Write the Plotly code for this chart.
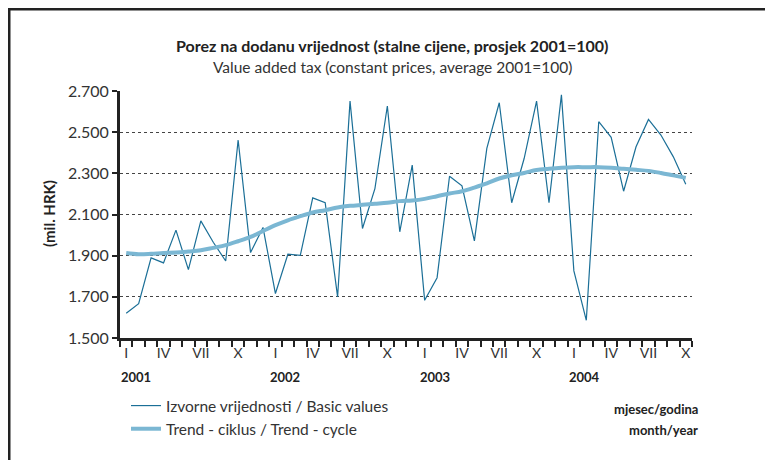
import plotly.graph_objects as go

# monthly data, I 2001 - X 2004
years = [2001, 2002, 2003, 2004]
roman = ["I", "II", "III", "IV", "V", "VI", "VII", "VIII", "IX", "X", "XI", "XII"]
months = [f"{y}-{m:02d}" for y in years for m in range(1, 13)][:46]

basic_values = [
    1620, 1667, 1889, 1865, 2024, 1832, 2069, 1965, 1874, 2462, 1915, 2037,
    1716, 1907, 1902, 2181, 2157, 1700, 2651, 2032, 2226, 2627, 2016, 2340,
    1683, 1793, 2286, 2239, 1972, 2421, 2643, 2157, 2372, 2651, 2157, 2681,
    1826, 1586, 2551, 2475, 2213, 2429, 2562, 2486, 2380, 2247,
]
trend_cycle = [
    1913, 1907, 1909, 1913, 1915, 1920, 1926, 1938, 1951, 1970, 1991, 2020,
    2048, 2072, 2092, 2110, 2121, 2134, 2142, 2147, 2152, 2157, 2165, 2168,
    2176, 2189, 2202, 2213, 2231, 2251, 2275, 2291, 2302, 2316, 2322, 2327,
    2330, 2330, 2330, 2327, 2322, 2317, 2312, 2302, 2290, 2278,
]
y_ticks = [1500, 1700, 1900, 2100, 2300, 2500, 2700]

month_labels = [roman[int(m[5:]) - 1] if int(m[5:]) in (1, 4, 7, 10) else "" for m in months]

FONT = "Lato"
OFF = 8  # page body margin
W, H = 773 - OFF, 460 - OFF
L, R, T, B = 120, 692, 91, 338  # plot area in page pixels


def px(x):
    return (x - L) / (R - L)


def py(y):
    return (B - y) / (B - T)


fig = go.Figure()
fig.add_trace(go.Scatter(
    x=months, y=basic_values, mode="lines",
    name="Izvorne vrijednosti / Basic values",
    line=dict(color="#1b6f97", width=1.2),
))
fig.add_trace(go.Scatter(
    x=months, y=trend_cycle, mode="lines",
    name="Trend - ciklus / Trend - cycle",
    line=dict(color="#7bb7d3", width=4, shape="spline"),
))


def note(text, x, y, size, color="#222", xanchor="center", **kw):
    return dict(text=text, x=px(x), y=py(y), xref="paper", yref="paper",
                xanchor=xanchor, yanchor="middle", showarrow=False,
                font=dict(size=size, color=color), **kw)


annotations = [
    note("<b>Porez na dodanu vrijednost (stalne cijene, prosjek 2001=100)</b>", 392, 45, 16),
    note("Value added tax (constant prices, average 2001=100)", 392, 67, 15.5, "#333"),
    note("<b>(mil. HRK)</b>", 49, 214, 15, textangle=-90),
    note("<b>mjesec/godina</b>", 700, 409, 13, xanchor="right"),
    note("<b>month/year</b>", 700, 430, 13, xanchor="right"),
]
for y in years:
    annotations.append(dict(
        text=f"<b>{y}</b>", x=f"{y}-01", y=py(377), xref="x", yref="paper",
        xanchor="left", yanchor="middle", xshift=-7, showarrow=False,
        font=dict(size=13, color="#222"),
    ))

shapes = [
    dict(type="line", xref="paper", yref="paper", x0=px(4), x1=px(773), y0=py(9), y1=py(9),
         line=dict(color="#222", width=3)),
    dict(type="line", xref="paper", yref="paper", x0=px(9), x1=px(9), y0=py(9), y1=py(460),
         line=dict(color="#222", width=3)),
]

fig.update_layout(
    width=W, height=H,
    margin=dict(l=L - OFF, r=773 - R, t=T - OFF, b=460 - B, autoexpand=False),
    paper_bgcolor="white", plot_bgcolor="white",
    separators=",.",
    font=dict(family=FONT, size=14, color="#333"),
    showlegend=True,
    legend=dict(x=px(126), y=py(389), xanchor="left", yanchor="top",
                font=dict(size=15.5, color="#333"), tracegroupgap=0,
                bgcolor="rgba(0,0,0,0)"),
    annotations=annotations,
    shapes=shapes,
)
fig.update_xaxes(
    type="category", tickson="boundaries", range=[-0.5, 45.5],
    tickvals=months, ticktext=month_labels, tickangle=0,
    ticks="outside", ticklen=6, tickwidth=1.5, tickcolor="#222",
    showline=True, linecolor="#222", linewidth=3,
    showgrid=False, tickfont=dict(size=14, color="#333"),
)
fig.update_yaxes(
    range=[1500, 2700], tickvals=y_ticks, tickformat=",d",
    ticks="outside", ticklen=5, tickwidth=1.5, tickcolor="#222",
    showline=True, linecolor="#222", linewidth=3,
    showgrid=True, gridcolor="#444", griddash="dot", gridwidth=1,
    zeroline=False, tickfont=dict(size=16, color="#333"),
)

fig.write_html("out.html")
